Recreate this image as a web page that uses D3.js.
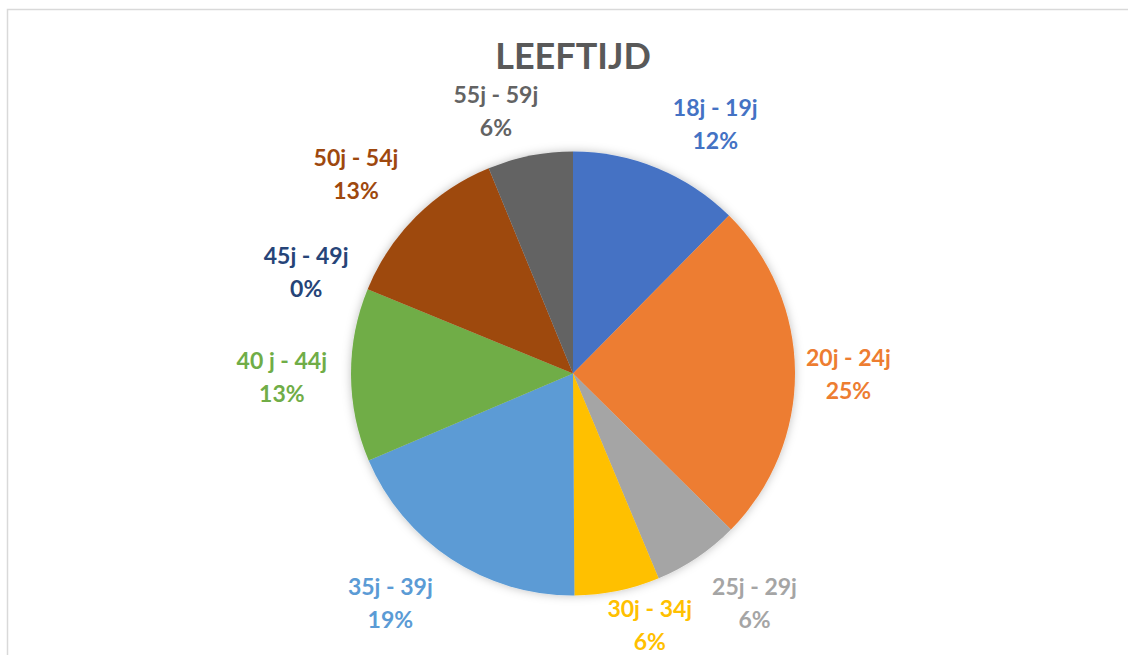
<!doctype html>
<html lang="nl">
<head>
<meta charset="UTF-8">
<title>Leeftijd</title>
<script src="https://d3js.org/d3.v7.min.js"></script>
<style>
  body { margin: 0; background: #fff; }
  svg { display: block; font-family: Lato, "Open Sans", sans-serif; }
</style>
</head>
<body>
<div id="chart"></div>
<script>
  // Data
  const categories = ['18j - 19j', '20j - 24j', '25j - 29j', '30j - 34j', '35j - 39j',
                      '40 j - 44j', '45j - 49j', '50j - 54j', '55j - 59j'];
  const values = [12.4, 25, 6.3, 6.2, 18.7, 12.6, 0, 12.6, 6.2];
  const colors = ['#4472C4', '#ED7D31', '#A5A5A5', '#FFC000', '#5B9BD5',
                  '#70AD47', '#264478', '#9E480E', '#636363'];
  // small shifts so labels sit like the Excel "best fit" ones
  const labelNudge = [[38, -4], [1, 2], [28, 10], [22, -8], [-32, 8],
                      [-14, 2], [-13, -1], [-23, -12], [-24, -3]];

  const width = 1128, height = 655;
  const cx = 573, cy = 373.5, radius = 222;

  const svg = d3.select('#chart').append('svg')
    .attr('width', width)
    .attr('height', height);

  // chart area border
  svg.append('rect')
    .attr('x', 7.5).attr('y', 9.5)
    .attr('width', width + 20).attr('height', height + 20)
    .attr('fill', 'none')
    .attr('stroke', '#d9d9d9')
    .attr('stroke-width', 1.5);

  svg.append('text')
    .attr('x', cx)
    .attr('y', 69)
    .attr('text-anchor', 'middle')
    .attr('fill', '#595959')
    .style('font-size', '36px')
    .style('font-weight', 700)
    .text('LEEFTIJD');

  const defs = svg.append('defs');
  const filter = defs.append('filter').attr('id', 'shadow')
    .attr('x', '-10%').attr('y', '-10%').attr('width', '120%').attr('height', '120%');
  filter.append('feDropShadow')
    .attr('dx', 0).attr('dy', 0)
    .attr('stdDeviation', 5)
    .attr('flood-color', '#000')
    .attr('flood-opacity', 0.25);

  const data = categories.map((c, i) => ({ name: c, value: values[i], color: colors[i] }));
  const total = d3.sum(values);

  const pie = d3.pie().sort(null).value(d => d.value);
  const arcs = pie(data);
  const arc = d3.arc().innerRadius(0).outerRadius(radius);

  const g = svg.append('g').attr('transform', `translate(${cx},${cy})`);

  g.append('g')
    .attr('filter', 'url(#shadow)')
    .selectAll('path')
    .data(arcs)
    .join('path')
    .attr('d', arc)
    .attr('fill', d => d.data.color);

  // labels outside end
  const labels = g.append('g').selectAll('text')
    .data(arcs)
    .join('text')
    .attr('text-anchor', 'middle')
    .attr('fill', d => d.data.color)
    .style('font-size', '23px')
    .style('font-weight', 700);

  labels.each(function (d, i) {
    const t = d3.select(this);
    t.append('tspan').attr('x', 0).attr('dy', 0).text(d.data.name);
    t.append('tspan').attr('x', 0).attr('dy', 33)
      .text(Math.round(d.data.value / total * 100) + '%');
    const mid = (d.startAngle + d.endAngle) / 2;
    const sx = Math.sin(mid), sy = -Math.cos(mid);
    const w = this.getBBox().width, h = 66;
    const px = (radius + 10) * sx + sx * w / 2 + labelNudge[i][0];
    const py = (radius + 10) * sy + sy * h / 2 + labelNudge[i][1];
    // py is the centre of the two-line block; shift to first baseline
    t.attr('transform', `translate(${px},${py - 8})`);
  });
</script>
</body>
</html>
